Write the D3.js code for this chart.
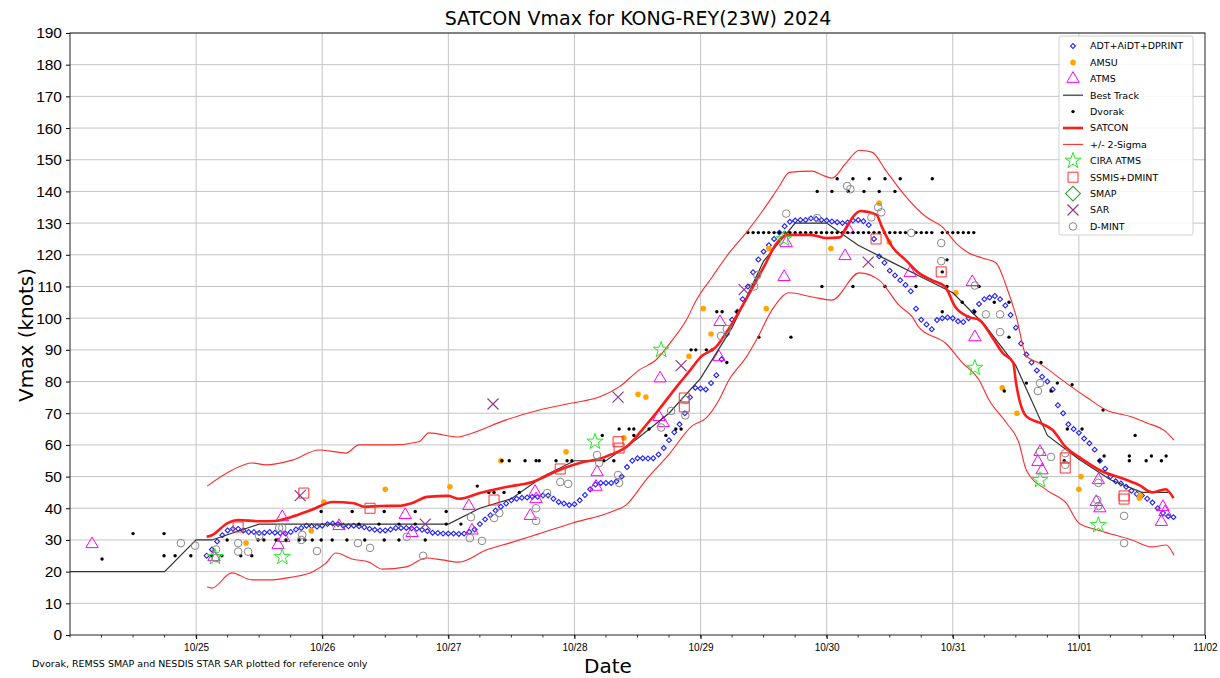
<!DOCTYPE html>
<html>
<head>
<meta charset="utf-8">
<script src="https://cdn.jsdelivr.net/npm/d3@7"></script>
<style>
  body { margin: 0; background: #fff; }
  svg { font-family: "DejaVu Sans", sans-serif; }
</style>
</head>
<body>
<div id="chart"></div>
<script>
// all times are hours after 2024-10-24 00Z, values in knots

// ADT+AiDT+DPRINT, hourly fixes starting at hour 26
var adtStart = 26;
var adtVals = [
  25,27,29.5,31.5,33,33.5,33.5,33,32.5,32.5,
  32.2,32.3,32.5,32.3,32.2,32,32.5,33.3,33.8,34.5,
  34.3,34.2,34.5,35,35.2,35,34.5,34.3,34.5,34.3,
  34,33.5,33.2,33,33,33.3,33.8,33.8,33.8,33.7,
  33.5,33.2,32.8,32.3,32.2,32,32,32,31.9,32,
  32.5,33.3,35,36.5,37.8,39.3,40.5,41.5,42.5,43,
  43.3,43.4,43.6,43.6,44,44,43,42,41.5,41,
  41.3,42.5,44.2,46,47.5,48,48,48,48.5,50,
  53,55,55.8,55.8,55.7,55.8,57,59,61.5,64,
  66.5,70,75,78,77.8,77.5,79.5,82,87,95,
  99.5,102,106,110,114.5,118.5,121,123,125,127,
  129,130.4,130.8,131,131,131.5,131.3,131,130.8,130.5,
  130.3,130,130.2,130.8,131,130.6,129.4,125,119.5,117.5,
  115,113.5,112,110.5,108.5,103,99.5,98,96.5,99.4,
  100,100.2,100,99,98.8,100,102,104.5,106,106.5,
  107,106,104,101,97,92,88.5,86,83.5,81.5,
  80,77.5,72.5,70,66.5,65,63.8,62,60.5,58.5,
  55,52.5,50,48.5,47.8,46.8,45.5,44.5,44,43,
  41.8,40,38.5,37.5,37.2
];

var amsu = [[33.5,29],[45.9,32.9],[48.3,42],[60,46],[72.3,46.8],[82,55],[94.4,57.8],
  [105.4,62.2],[108.1,76],[109.6,75.1],[117.8,88],[120.5,103],[122,95],[132.5,103],
  [133,122],[144.8,122],[154,136.3],[155.9,124],[168.6,108],[177.4,78],[180.2,70],
  [192.4,50],[192,46],[203.5,43.2],[203.7,44]];

var atms = [[4.2,28.7],[27.4,24.6],[40.4,37.2],[39.6,28.4],[40.7,30.6],[51.2,34.4],
  [63.8,37.9],[65.1,32.2],[75.9,40.7],[76.5,33],[88.5,45.2],[88.7,42.9],[87.6,37.6],
  [100.3,51.4],[100.1,46.8],[112.3,81],[112.1,68.8],[112.9,66.9],[123.7,98.8],
  [123.5,87.7],[136.3,123.7],[135.9,113],[147.5,119.6],[148.1,128],[159.9,114.3],
  [171.7,111.4],[172.2,94],[184.6,57.8],[184.2,54.6],[185,52],[195.7,48.9],[195.3,42],
  [196,40],[208,40.4],[207.7,35.7],[208.4,38.8]];

var bestTrack = [[0,20],[18,20],[24,30],[27,30],[36,35],[72,35],[78,40],[84,43],[90,50],
  [96,55],[102,55],[108,62],[114,70],[120,81],[126,97],[132,118],[138,130],[144,130],
  [150,123],[156,118],[162,113],[168,108],[174,98],[180,85],[186,63],[192,55.5],
  [198,49],[204,45],[209,45]];

var dvorak = [[6.1,24],[12,32],[17.9,32],[17.9,25],[20,25],[23,25],
  [27,25],[28.9,25],[29.9,30],[32.5,25],[34.6,25],[35.8,30],[36.9,30],[39.2,30],[41.1,30],
  [43.6,30],[44.7,30],[46.1,30],[47.8,39],[47.8,30],[49.9,30],[52.7,30],[53.7,39],[55,35],
  [56.1,30],[58.8,35],[59.8,39],[59.8,30],[62.6,30],[62.6,35],[65.7,39],[65.7,35],[67.6,30],
  [71.6,39],[71.6,35],[74.4,35],
  [77.5,47],[79.7,45],[80.7,45],[82.6,45],[85.5,45],[82.2,55],[83.6,55],[86.6,55],[88.7,55],
  [89.3,55],[92.5,55],[94.6,55],[95.5,55],[101.3,63],[101.6,55],[103.5,55],[104.5,65],
  [106.4,65],[107.3,65],[107.3,63],[110.2,65],[113.4,63],[115.3,65],[116.3,65],[118.2,90],
  [119.1,90],[121.1,90],[122.2,90],[123.1,102],[124.1,102],[125,86],[127,102],[131.1,94],
  [137.2,94],
  [146,144],[149,144],[152.1,144],[155.1,144],[158,144],[164.1,144],
  [142.2,140],[145,140],[148.1,140],[151.1,140],[154,140],[157,140],
  [143.1,110],[149,110],[155.1,110],[161,110],[166.9,110],[173,110],
  [129,127],[130,127],[131,127],[132,127],[133,127],[134,127],[135,127],[136,127],[137,127],
  [138,127],[139,127],[140,127],[141,127],[142,127],[143,127],[144,127],[145,127],[146,127],
  [147,127],[148,127],[149,127],[150,127],[151,127],[152,127],[153,127],[154,127],[155,127],
  [156,127],[157,127],[158,127],[159,127],[161,127],[162,127],[163,127],[164,127],[166,127],
  [167,127],[168,127],[169,127],[170,127],[171,127],[172,127],
  [166.9,118.4],[166,114.6],[166,102],[169.8,105],[172.1,102],[175.9,105],[178.7,105],
  [178.7,94],[184.8,86],[182,79.5],[187.9,79.5],[190.7,79],[177.8,77],[186.7,77],
  [189.8,65],[192.6,65],[196.6,71],[202.7,63],[196.8,56.5],[195.9,55],[201.6,56.5],
  [201.6,55],[204.8,55],[205.8,56.5],[207.7,55],[208.6,56.5],[189.2,55]];

var satcon = [[26,31],[27,31.5],[30,35.3],[32,36.3],[36,35.9],[39,36],[42,37.2],[46,39.5],
  [50,42],[54,41.6],[56,40.5],[59,40.7],[63,40.8],[65,41.6],[68,43.6],[72,43.9],[74,43],
  [78,44.8],[83,46.7],[88,48.3],[93,52],[97.5,54.5],[101,55.7],[103,57],[106,59.5],
  [109,65],[112,71],[116,79.5],[118,83.5],[120,87.7],[123,91],[125.5,97],[128,104],
  [132,116],[134.5,123.7],[136.5,126.3],[141,126.3],[144,125.3],[146.5,125.5],[147.5,127.8],
  [149,132],[150.5,133.8],[153.5,132.6],[154.5,128.8],[156.5,122.5],[159,118.4],
  [161.5,114.3],[164,112],[166.5,110],[168.5,103.5],[171,100.4],[173,99.5],[175.5,94],
  [177.5,89],[179.5,86],[180,80],[182,69],[184.5,67],[187,64.7],[189.5,59.3],[192,56.2],
  [196,52],[201,49],[203.5,47.3],[206,45],[208.5,46],[210,43.2]];

var sigmaHi = [[26.1,47],[30.8,52],[34.6,54.3],[37.3,53.7],[42.3,55.2],[47.4,58.4],
  [50.6,57.8],[52.5,57.4],[55,60],[61.3,60],[66.4,61],[68.3,63.8],[74,62.5],[75.4,63.1],
  [83,67.9],[89.3,71],[95.5,73.2],[100.7,75.1],[104.5,78.3],[108.3,83.6],[111.5,86.8],
  [114.6,93],[117.3,99.4],[119.2,105.7],[122.2,113],[125.4,120.5],[128.7,127],
  [132.5,135.5],[134.9,141.4],[136.9,146],[141.2,146.4],[143.1,145.2],[145,144.2],
  [147.7,149],[150.2,153],[152.6,152.4],[155.3,146.5],[159.1,138.3],[162.9,132],
  [166,128.8],[168.6,123.7],[171.1,120.5],[173.6,119],[176.2,117.5],[178.2,110],
  [180.1,100.4],[182,88],[184.4,85.8],[189.6,79.5],[193.4,75.1],[197.2,71],[202.1,68.8],
  [204.8,67],[208.6,64.1],[210.1,61.5]];

var sigmaLo = [[26.1,15.2],[27,14.8],[30.8,19.6],[34.6,17.4],[38.4,17.4],[42.3,18.3],
  [46.1,19.9],[48.7,22.7],[50.6,25.9],[53.7,24],[56.9,23],[59.4,20.8],[64,21.5],
  [67.8,24.3],[70.8,23.7],[74,23],[79.2,26.8],[83.6,29],[89.3,32],[95.5,35.3],
  [103.2,39],[105.8,41],[109.6,48.9],[114,57],[118.4,66],[121.1,68.5],[123.5,74.2],
  [125.4,80.5],[128.7,87.7],[130.6,93],[133.6,102.6],[136.9,108],[141.2,106.7],
  [145,105.7],[150.2,114.3],[154,112],[157.8,104],[160.3,100.4],[161.6,97],[166.7,92],
  [169.8,86],[173,80.5],[174.9,74.2],[178.2,67],[180.6,60.6],[182,52],[185.8,45.8],
  [189.6,41.6],[192,35.3],[195.9,33],[202.1,30],[205.9,27.8],[208.6,28.4],[210.1,25.2]];

var ciraAtms = [[27.6,24.6],[40.4,24.6],[99.9,61],[112.5,90],[135.9,125],[172.2,84.3],
  [184.6,48.9],[195.7,34.7]];

var ssmis = [[32,34.1],[44.5,44.8],[57.1,40],[80.7,42.6],[93.3,52.4],[104.3,61],[104.5,59],
  [116.9,74.8],[116.9,72],[153.4,125],[165.8,114.6],[189.4,55.9],[189.4,52.7],
  [200.6,43.9],[200.6,42.9]];

var smap = [];

var sar = [[43.8,44],[67.6,35],[80.5,72.9],[104.3,75.1],[116.3,85],[128.3,109],[151.9,117.7]];

var dmint = [[21.1,29],[23.8,28.2],[27.8,27],[27.8,24.3],[32,29],[32,26.3],[33.9,26.3],
  [36,31.2],[39.8,33.8],[40.4,33.8],[44,30],[44.2,31.6],[47,26.5],[54.8,29],[57.1,27.5],
  [64.1,31],[67.2,25],[76.3,37.2],[76.1,30.6],[78.4,29.7],[80.7,36.9],[81.7,38.5],
  [88.7,40],[88.7,36],[90.8,44.8],[93.3,48.3],[94.8,47.7],[100.3,56.8],[100.7,54.3],
  [104.3,50.5],[104.5,48],[112.5,65.5],[114.4,70.7],[117.1,69.3],[117.1,74.2],
  [123.9,94.4],[125,96.6],[130.2,110],[130.8,113.6],[136.3,133],[142.2,131.6],
  [147.9,141.7],[148.5,140.7],[152.5,131.8],[153.8,135],[154.4,133.4],[160.1,126.9],
  [165.8,123.7],[165.8,118],[172.2,110.3],[174.3,101.2],[177,101.2],[177,95.6],
  [184.6,79.5],[184.2,77],[186.7,56.2],[184.6,57.8],[189.4,57.4],[189.4,53.7],
  [195.7,48],[195.5,42.6],[195.7,40.7],[200.6,37.6],[200.6,29]];

var yTicks = d3.range(0, 200, 10);
var dayLabels = ["10/25","10/26","10/27","10/28","10/29","10/30","10/31","11/01","11/02"];

(function() {
  var width = 1220, height = 678;
  var left = 70, right = 1205, top = 33, bottom = 635;

  var svg = d3.select("#chart")
    .append("svg")
    .attr("width", width)
    .attr("height", height);

  var t0 = Date.UTC(2024, 9, 24);
  function toDate(h) { return new Date(t0 + h * 3600e3); }

  var x = d3.scaleUtc()
    .domain([toDate(0), toDate(216)])
    .range([left, right]);

  var y = d3.scaleLinear()
    .domain([0, 190])
    .range([bottom, top]);

  var days = d3.utcDay.range(toDate(24), toDate(217));

  // grid
  var grid = svg.append("g").attr("stroke", "#c4c4c4").attr("stroke-width", 1);
  grid.selectAll(".gy").data(yTicks.slice(1))
    .enter().append("line")
    .attr("x1", left).attr("x2", right)
    .attr("y1", function(d) { return y(d); })
    .attr("y2", function(d) { return y(d); });
  grid.selectAll(".gx").data(days.slice(0, -1))
    .enter().append("line")
    .attr("y1", top).attr("y2", bottom)
    .attr("x1", function(d) { return x(d); })
    .attr("x2", function(d) { return x(d); });

  // axes
  var yAxis = d3.axisLeft(y).tickValues(yTicks).tickSize(4).tickPadding(4);
  var gy = svg.append("g").attr("transform", "translate(" + left + ",0)").call(yAxis);
  gy.select(".domain").remove();
  gy.selectAll("text").style("font-size", "15.5px").attr("fill", "#000");

  var xAxis = d3.axisBottom(x).tickValues(days).tickSize(4).tickPadding(5)
    .tickFormat(function(d, i) { return dayLabels[i]; });
  var gx = svg.append("g").attr("transform", "translate(0," + bottom + ")").call(xAxis);
  gx.select(".domain").remove();
  gx.selectAll("text").style("font-size", "10px").attr("fill", "#000");

  var minor = d3.utcHour.every(6).range(toDate(0), toDate(216));
  svg.append("g").selectAll("line").data(minor)
    .enter().append("line")
    .attr("x1", function(d) { return x(d); })
    .attr("x2", function(d) { return x(d); })
    .attr("y1", bottom).attr("y2", bottom + 2.5)
    .attr("stroke", "#000").attr("stroke-width", 0.8);

  var plot = svg.append("g");

  var line = d3.line()
    .x(function(d) { return x(toDate(d[0])); })
    .y(function(d) { return y(d[1]); })
    .curve(d3.curveMonotoneX);

  // marker shapes
  var triPath = d3.symbol().type(d3.symbolTriangle).size(66)();
  var starPath = d3.symbol().type(d3.symbolStar).size(80)();
  var sqPath = d3.symbol().type(d3.symbolSquare).size(100)();
  var smallDia = d3.symbol().type(d3.symbolSquare).size(12)();
  var bigDia = d3.symbol().type(d3.symbolSquare).size(110)();
  function xPath(s) {
    return "M" + (-s) + "," + (-s) + "L" + s + "," + s + "M" + (-s) + "," + s + "L" + s + "," + (-s);
  }

  function points(data, path, style, rot) {
    plot.append("g").selectAll("path").data(data)
      .enter().append("path")
      .attr("d", path)
      .attr("transform", function(d) {
        return "translate(" + x(toDate(d[0])) + "," + y(d[1]) + ")" + (rot ? " rotate(45)" : "");
      })
      .attr("fill", style.fill || "none")
      .attr("stroke", style.stroke || "none")
      .attr("stroke-width", style.sw || 1);
  }

  var adt = adtVals.map(function(v, i) { return [adtStart + i, v]; });

  points(adt, smallDia, { stroke: "#1f1fff", sw: 1.1 }, true);

  plot.append("g").selectAll("circle").data(amsu)
    .enter().append("circle")
    .attr("cx", function(d) { return x(toDate(d[0])); })
    .attr("cy", function(d) { return y(d[1]); })
    .attr("r", 2.8).attr("fill", "#ffa500");

  points(atms, triPath, { stroke: "#ff00ff", sw: 1 });

  plot.append("path").datum(bestTrack)
    .attr("d", d3.line()
      .x(function(d) { return x(toDate(d[0])); })
      .y(function(d) { return y(d[1]); }))
    .attr("fill", "none").attr("stroke", "#333").attr("stroke-width", 1.2);

  plot.append("g").selectAll("circle").data(dvorak)
    .enter().append("circle")
    .attr("cx", function(d) { return x(toDate(d[0])); })
    .attr("cy", function(d) { return y(d[1]); })
    .attr("r", 1.7).attr("fill", "#000");

  plot.append("path").datum(satcon).attr("d", line)
    .attr("fill", "none").attr("stroke", "#ff1a1a").attr("stroke-width", 2.6);
  [sigmaHi, sigmaLo].forEach(function(s) {
    plot.append("path").datum(s).attr("d", line)
      .attr("fill", "none").attr("stroke", "#ff2a2a").attr("stroke-width", 1.1);
  });

  points(ciraAtms, starPath, { stroke: "#22ee22", sw: 1 });
  points(ssmis, sqPath, { stroke: "#ff3030", sw: 1 });
  points(smap, bigDia, { stroke: "#2a9a2a", sw: 1 }, true);
  points(sar, xPath(5.5), { stroke: "#8e3a8e", sw: 1.2 });

  plot.append("g").selectAll("circle").data(dmint)
    .enter().append("circle")
    .attr("cx", function(d) { return x(toDate(d[0])); })
    .attr("cy", function(d) { return y(d[1]); })
    .attr("r", 3.8).attr("fill", "none").attr("stroke", "#888").attr("stroke-width", 1);

  // frame
  svg.append("rect")
    .attr("x", left).attr("y", top)
    .attr("width", right - left).attr("height", bottom - top)
    .attr("fill", "none").attr("stroke", "#222").attr("stroke-width", 1);

  // legend
  var legendItems = [
    { name: "ADT+AiDT+DPRINT", kind: "pt", path: smallDia, rot: true, stroke: "#1f1fff", sw: 1.1 },
    { name: "AMSU", kind: "dot", fill: "#ffa500", r: 2.8 },
    { name: "ATMS", kind: "pt", path: triPath, stroke: "#ff00ff" },
    { name: "Best Track", kind: "line", stroke: "#333", sw: 1.2 },
    { name: "Dvorak", kind: "dot", fill: "#000", r: 1.7 },
    { name: "SATCON", kind: "line", stroke: "#ff1a1a", sw: 2.6 },
    { name: "+/- 2-Sigma", kind: "line", stroke: "#ff2a2a", sw: 1.1 },
    { name: "CIRA ATMS", kind: "pt", path: starPath, stroke: "#22ee22" },
    { name: "SSMIS+DMINT", kind: "pt", path: sqPath, stroke: "#ff3030" },
    { name: "SMAP", kind: "pt", path: bigDia, rot: true, stroke: "#2a9a2a" },
    { name: "SAR", kind: "pt", path: xPath(5.5), stroke: "#8e3a8e", sw: 1.2 },
    { name: "D-MINT", kind: "circ", stroke: "#888", r: 3.8 }
  ];

  var lg = svg.append("g").attr("transform", "translate(1059,36)");
  lg.append("rect")
    .attr("width", 134).attr("height", 199).attr("rx", 2)
    .attr("fill", "#fff").attr("fill-opacity", 0.85)
    .attr("stroke", "#d0d0d0").attr("stroke-width", 1);

  var row = lg.selectAll(".row").data(legendItems)
    .enter().append("g")
    .attr("transform", function(d, i) { return "translate(0," + (10 + i * 16.4) + ")"; });

  row.each(function(d) {
    var r = d3.select(this);
    if (d.kind === "line") {
      r.append("line").attr("x1", 4).attr("x2", 24).attr("y1", 0).attr("y2", 0)
        .attr("stroke", d.stroke).attr("stroke-width", d.sw);
    } else if (d.kind === "dot") {
      r.append("circle").attr("cx", 14).attr("cy", 0).attr("r", d.r).attr("fill", d.fill);
    } else if (d.kind === "circ") {
      r.append("circle").attr("cx", 14).attr("cy", 0).attr("r", d.r)
        .attr("fill", "none").attr("stroke", d.stroke);
    } else {
      r.append("path").attr("d", d.path)
        .attr("transform", "translate(14,0)" + (d.rot ? " rotate(45)" : ""))
        .attr("fill", "none").attr("stroke", d.stroke).attr("stroke-width", d.sw || 1);
    }
    r.append("text").attr("x", 31).attr("y", 0).attr("dy", "0.35em")
      .style("font-size", "9.5px").attr("fill", "#000").text(d.name);
  });

  // titles
  svg.append("text")
    .attr("x", 638).attr("y", 25)
    .attr("text-anchor", "middle")
    .style("font-size", "19px")
    .text("SATCON Vmax for KONG-REY(23W) 2024");

  svg.append("text")
    .attr("transform", "translate(33,335) rotate(-90)")
    .attr("text-anchor", "middle")
    .style("font-size", "20px")
    .text("Vmax (knots)");

  svg.append("text")
    .attr("x", 608).attr("y", 673)
    .attr("text-anchor", "middle")
    .style("font-size", "20px")
    .text("Date");

  svg.append("text")
    .attr("x", 32).attr("y", 667)
    .style("font-size", "9.5px")
    .text("Dvorak, REMSS SMAP and NESDIS STAR SAR plotted for reference only");
})();
</script>
</body>
</html>
